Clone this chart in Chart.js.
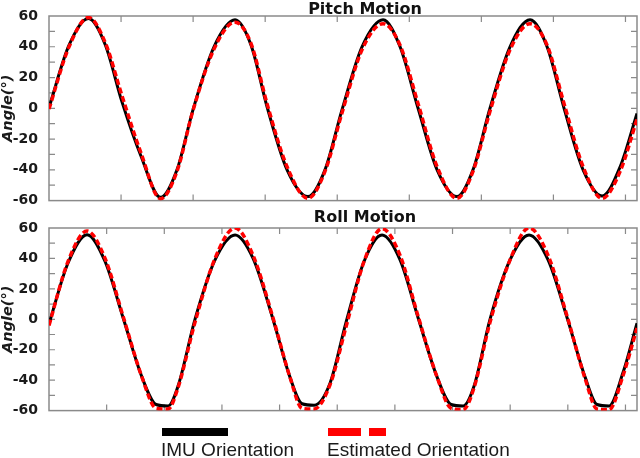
<!DOCTYPE html>
<html>
<head>
<meta charset="utf-8">
<script src="https://cdn.jsdelivr.net/npm/chart.js@4.4.1/dist/chart.umd.min.js"></script>
<style>
  html, body { margin: 0; padding: 0; background: #fff; }
  #wrap { position: relative; width: 640px; height: 458px; overflow: hidden; background: #fff; }
  canvas { position: absolute; left: 0; }
  #pitchChart { top: 0; }
  #rollChart { top: 204px; }
  .swatch { position: absolute; top: 428px; height: 8px; }
  .lbl { position: absolute; top: 440px; font: 19px "Liberation Sans", Arial, sans-serif; line-height: 19px; color: #1a1a1a; white-space: nowrap; }
</style>
</head>
<body>
<div id="wrap">
  <canvas id="pitchChart" width="640" height="212"></canvas>
  <canvas id="rollChart" width="640" height="218"></canvas>
  <span class="swatch" style="left:162px; width:66px; background:#000;"></span>
  <span class="swatch" style="left:328px; width:33px; background:#f00;"></span>
  <span class="swatch" style="left:369px; width:17px; background:#f00;"></span>
  <div class="lbl" style="left:161px;">IMU Orientation</div>
  <div class="lbl" style="left:327px;">Estimated Orientation</div>
</div>
<script>
// Pitch motion (top panel)
const pitchTime = [0, 1.39, 2.74, 3.89, 5.07, 6.38, 7.74, 8.88, 9.99, 11.45, 12.91, 14.02, 15.13, 16.52, 17.97, 19.15, 20.33,
  21.72, 23.18, 24.36, 25.61, 26.93, 28.31, 29.42, 30.60, 31.99, 33.38, 34.56, 35.74, 37.06, 38.38, 39.63, 40.80];
const pitchImu = [0.5, 41, 58.3, 41.6, 4, -31, -57.9, -40, -1, 40, 57.5, 41, 1, -40, -57.4, -40, -1,
  40, 57.6, 40, 0, -40, -57.4, -40, 0, 40, 57.6, 40, 0, -40, -57, -38, -3.3];
const pitchEst = [-0.5, 40, 59, 43, 8, -29, -58.8, -41, -1.5, 38.5, 56, 42, 3, -38, -58.5, -41, -3,
  38, 55, 41, 3, -38, -58.5, -41, -2, 38, 55, 41, 3, -38, -58.5, -41, -7];

// Roll motion (bottom panel)
const rollTime = [0, 1.32, 2.64, 3.89, 5.14, 6.45, 7.43, 8.26, 8.95, 10.13, 11.52, 12.91, 14.16, 15.48, 16.72, 17.56, 18.39,
  19.50, 20.61, 21.86, 23.11, 24.36, 25.61, 26.93, 27.90, 28.73, 29.49, 30.60, 31.99, 33.31, 34.63, 35.95, 37.20, 38.03,
  38.86, 39.83, 40.80];
const rollImu = [-3, 37, 55.6, 38, 1, -38, -56, -57, -44, 0, 39, 55.4, 40, 2, -38, -55.5, -56.5,
  -42, -2, 38, 55.4, 39, 1, -38, -56, -57, -44, 0, 39, 55.4, 39, 1, -38, -56,
  -57, -35, -2.6];
const rollEst = [-4, 38, 58, 40, 2, -38, -58.5, -59, -45, -2, 40, 60, 42, 3, -38, -58.5, -59,
  -43, -5, 38, 59.6, 42, 2, -38, -58.5, -59.5, -45, -2, 39, 60, 42, 2, -39, -59,
  -59.5, -37, -5.7];

const timeMax = 40.8;
const pitchTickStep = 5;
const rollTickStep = 4;

function toPoints(xs, ys) {
  return xs.map((x, i) => ({ x: x, y: ys[i] }));
}

// draws the grey box, inward tick marks and the panel title
const boxPlugin = {
  id: 'boxPlugin',
  beforeDatasetsDraw(chart, args, opts) {
    const { ctx, chartArea: a, scales } = chart;
    ctx.save();
    ctx.strokeStyle = '#8a8a8a';
    ctx.lineWidth = 1.5;
    ctx.strokeRect(a.left, a.top, a.right - a.left, a.bottom - a.top);
    ctx.lineWidth = 1.2;
    ctx.beginPath();
    for (let v = -50; v <= 50; v += 10) {
      const py = scales.y.getPixelForValue(v);
      ctx.moveTo(a.left, py); ctx.lineTo(a.left + 6, py);
      ctx.moveTo(a.right, py); ctx.lineTo(a.right - 6, py);
    }
    for (let t = opts.xStep; t < timeMax; t += opts.xStep) {
      const px = scales.x.getPixelForValue(t);
      ctx.moveTo(px, a.top); ctx.lineTo(px, a.top + 6);
      ctx.moveTo(px, a.bottom); ctx.lineTo(px, a.bottom - 6);
    }
    ctx.stroke();
    ctx.restore();
  },
  afterDraw(chart, args, opts) {
    const { ctx, chartArea: a } = chart;
    ctx.save();
    ctx.font = 'bold 16px "DejaVu Sans", sans-serif';
    ctx.fillStyle = '#111';
    ctx.textAlign = 'center';
    ctx.textBaseline = 'alphabetic';
    ctx.fillText(opts.text, (a.left + a.right) / 2 + 22, opts.baseline);
    ctx.restore();
  }
};

function makeChart(id, time, imu, est, title, step, padTop, padBottom, titleBaseline) {
  const ctx = document.getElementById(id).getContext('2d');
  return new Chart(ctx, {
    type: 'line',
    data: {
      datasets: [
        {
          label: 'IMU Orientation',
          data: toPoints(time, imu),
          borderColor: '#000',
          borderWidth: 3,
          pointRadius: 0,
          cubicInterpolationMode: 'monotone',
          order: 2
        },
        {
          label: 'Estimated Orientation',
          data: toPoints(time, est),
          borderColor: '#ff0000',
          borderWidth: 3.5,
          borderDash: [6, 3],
          pointRadius: 0,
          cubicInterpolationMode: 'monotone',
          order: 1
        }
      ]
    },
    options: {
      responsive: false,
      animation: false,
      devicePixelRatio: 1,
      layout: { padding: { left: 0, right: 3, top: padTop, bottom: padBottom } },
      plugins: {
        legend: { display: false },
        tooltip: { enabled: false },
        boxPlugin: { text: title, xStep: step, baseline: titleBaseline }
      },
      scales: {
        x: { type: 'linear', min: 0, max: timeMax, display: false },
        y: {
          min: -60,
          max: 60,
          afterFit: s => { s.width = 49; },
          grid: { display: false },
          border: { display: false },
          ticks: {
            stepSize: 20,
            padding: 3,
            color: '#1a1a1a',
            font: { family: '"DejaVu Sans", sans-serif', size: 14, weight: 'bold' }
          },
          title: {
            display: true,
            text: 'Angle(°)',
            color: '#1a1a1a',
            padding: { top: 0, bottom: 0 },
            font: { family: '"DejaVu Sans", sans-serif', size: 14.5, weight: 'bold', style: 'italic' }
          }
        }
      }
    },
    plugins: [boxPlugin]
  });
}

makeChart('pitchChart', pitchTime, pitchImu, pitchEst, 'Pitch Motion', pitchTickStep, 16, 5, 13.5);
makeChart('rollChart', rollTime, rollImu, rollEst, 'Roll Motion', rollTickStep, 24, 4, 17.5);
</script>
</body>
</html>
